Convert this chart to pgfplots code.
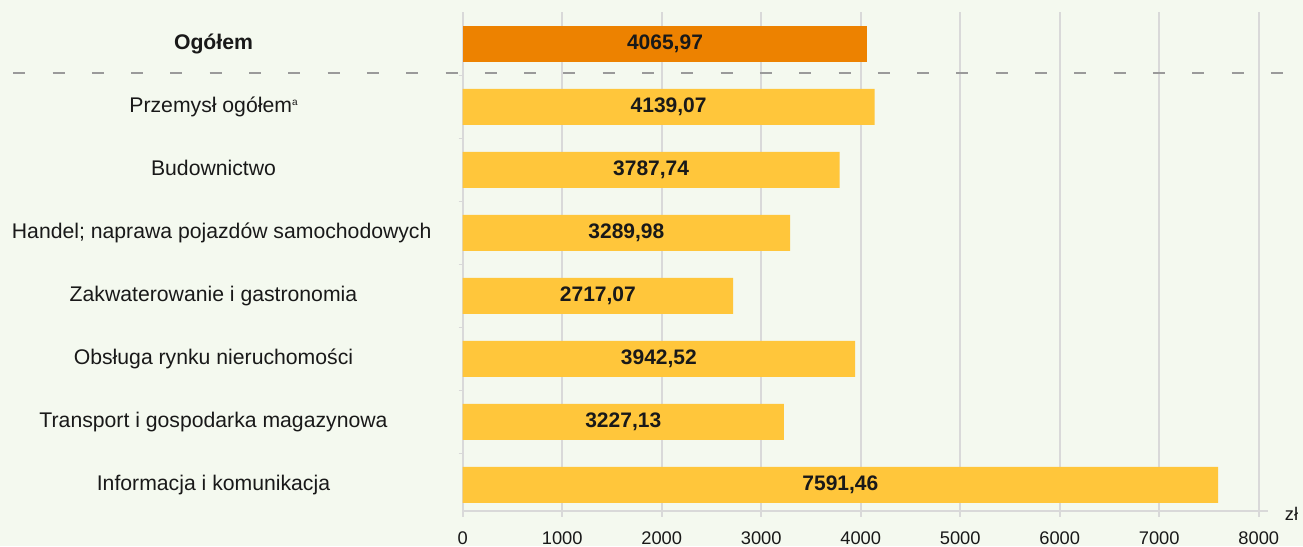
\documentclass[border=0pt]{standalone}
\usepackage{fontspec}
\setmainfont{Liberation Sans}
\usepackage{pgfplots}
\usepackage{pgfplotstable}
\pgfplotsset{compat=1.18}
\definecolor{bg}{HTML}{F4F9EF}
\definecolor{gridc}{HTML}{D9D9D9}
\definecolor{orangebar}{HTML}{ED8200}
\definecolor{yellowbar}{HTML}{FFC63B}
\definecolor{dashc}{HTML}{9A9A9A}

\pgfplotstableread{
pos val label
0 4065.97 4065,97
}\ogolem
\pgfplotstableread{
pos val label
1 4139.07 4139,07
2 3787.74 3787,74
3 3289.98 3289,98
4 2717.07 2717,07
5 3942.52 3942,52
6 3227.13 3227,13
7 7591.46 7591,46
}\branze

\begin{document}
\begin{tikzpicture}
\fill[bg] (0,0) rectangle (1303pt,546pt);
\begin{axis}[
  at={(462.7pt,35.3pt)}, anchor=south west,
  scale only axis, width=805pt, height=498.4pt,
  xmin=0, xmax=8090, ymin=-0.5, ymax=7.41, y dir=reverse,
  axis x line*=bottom, axis y line*=left,
  axis line style={gridc, line width=2pt, -},
  xtick={0,1000,...,8000},
  xmajorgrids, grid style={gridc, line width=2pt},
  tick align=outside,
  major tick length=6pt,
  xtick style={draw=gridc, line width=2pt},
  xticklabel style={font=\fontsize{18.3}{20}\selectfont, text=black!90, yshift=-11.5pt},
  /pgf/number format/1000 sep={},
  /pgf/number format/assume math mode=true,
  ytick={0,...,7},
  yticklabels={{\bfseries Ogółem}, {Przemysł ogółem{\fontsize{10}{10}\selectfont\raisebox{7pt}{a}}}, Budownictwo, {\hspace*{16.4pt}Handel; naprawa pojazdów samochodowych}, {Zakwaterowanie i gastronomia}, {Obsługa rynku nieruchomości}, {Transport i gospodarka magazynowa}, {Informacja i komunikacja}},
  ytick style={draw=none},
  yticklabel style={font=\fontsize{21.2}{24}\selectfont, text=black!90, anchor=center, xshift=-243.2pt, text height=15pt, text depth=4.5pt},
  extra y ticks={0.5,1.5,2.5,3.5,4.5,5.5,6.5},
  extra y tick labels={},
  extra y tick style={ytick style={draw=gridc, line width=1.5pt}, major tick length=4pt},
  xbar, bar width=0.57, bar shift=0pt,
  clip=false,
  point meta=explicit symbolic,
  nodes near coords,
  nodes near coords align={center},
  visualization depends on={rawx \as \rawx},
  every node near coord/.append style={anchor=center, font=\fontsize{21}{24}\selectfont\bfseries, text=black!90, shift={(axis direction cs:-\rawx/2,0)}},
  xlabel={zł},
  xlabel style={at={(axis cs:8090,7.41)}, anchor=base west, inner sep=0pt, xshift=17pt, yshift=-9.5pt, font=\fontsize{18.3}{20}\selectfont, text=black!90},
]
\addplot[fill=orangebar, draw=none] table[x=val, y=pos, meta=label] {\ogolem};
\addplot[fill=yellowbar, draw=none] table[x=val, y=pos, meta=label] {\branze};
\draw[dashc, line width=2pt, dash pattern=on 12pt off 27.3pt] (axis cs:-4517,0.46) -- (axis cs:8244,0.46);
\end{axis}
\pgfresetboundingbox
\path[use as bounding box] (0,0) rectangle (1303pt,546pt);
\end{tikzpicture}
\end{document}
